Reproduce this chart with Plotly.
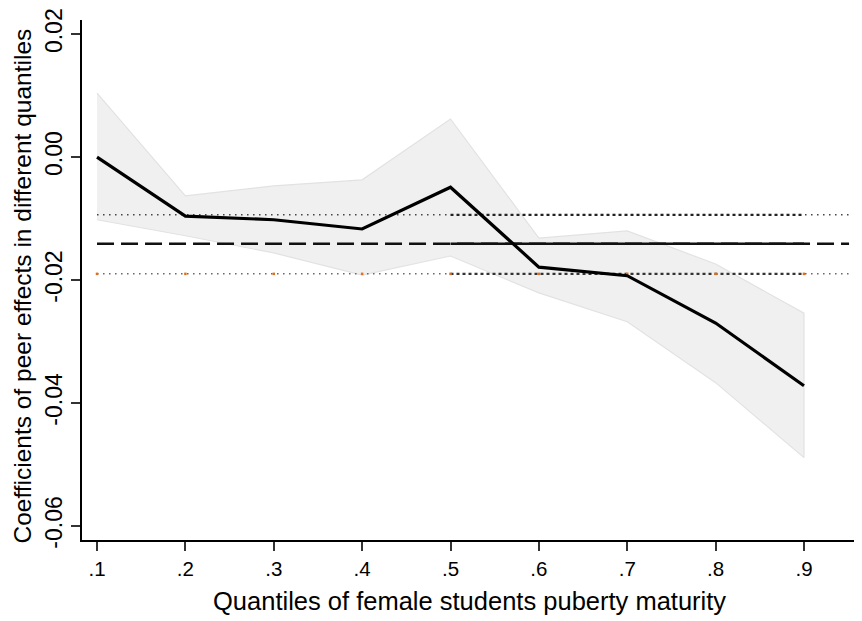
import plotly.graph_objects as go

quantiles = [0.1, 0.2, 0.3, 0.4, 0.5, 0.6, 0.7, 0.8, 0.9]
coef = [0.0000, -0.0096, -0.0102, -0.0117, -0.0049, -0.0179, -0.0193, -0.0270, -0.0372]
ci_upper = [0.0104, -0.0063, -0.0047, -0.0037, 0.0062, -0.0132, -0.0120, -0.0174, -0.0254]
ci_lower = [-0.0102, -0.0128, -0.0156, -0.0192, -0.0161, -0.0221, -0.0268, -0.0367, -0.0489]

ols_coef = -0.0141
ols_upper = -0.0094
ols_lower = -0.0190
ref_x_full = [0.1, 0.951]
ref_x_part = [0.5, 0.9]

yticks = [0.02, 0.0, -0.02, -0.04, -0.06]
ytick_labels = ["0.02", "0.00", "-0.02", "-0.04", "-0.06"]
xticks = quantiles
xtick_labels = [".1", ".2", ".3", ".4", ".5", ".6", ".7", ".8", ".9"]

x_title = "Quantiles of female students puberty maturity"
y_title = "Coefficients of peer effects in different quantiles"

fig = go.Figure()

# CI band
fig.add_trace(go.Scatter(x=quantiles + quantiles[::-1], y=ci_upper + ci_lower[::-1],
                         fill="toself", fillcolor="#f0f0f0",
                         line=dict(color="#e2e2e2", width=1.2),
                         mode="lines", hoverinfo="skip", showlegend=False))

# Reference lines (full span)
fig.add_trace(go.Scatter(x=ref_x_full, y=[ols_upper, ols_upper], mode="lines",
                         line=dict(color="#444444", width=1.5, dash="1.5px,4.5px"), showlegend=False))
fig.add_trace(go.Scatter(x=ref_x_full, y=[ols_coef, ols_coef], mode="lines",
                         line=dict(color="#111111", width=2.4, dash="17px,7px"), showlegend=False))
fig.add_trace(go.Scatter(x=ref_x_full, y=[ols_lower, ols_lower], mode="lines",
                         line=dict(color="#666666", width=1.5, dash="1.5px,4.5px"), showlegend=False))

# Overlaid darker segments
fig.add_trace(go.Scatter(x=ref_x_part, y=[ols_upper, ols_upper], mode="lines",
                         line=dict(color="#222222", width=2.2, dash="3px,3px"), showlegend=False))
fig.add_trace(go.Scatter(x=ref_x_part, y=[ols_coef, ols_coef], mode="lines",
                         line=dict(color="#111111", width=2.6), showlegend=False))
fig.add_trace(go.Scatter(x=ref_x_part, y=[ols_lower, ols_lower], mode="lines",
                         line=dict(color="#333333", width=2.2, dash="3px,3px"), showlegend=False))

# small colored markers at quantiles
fig.add_trace(go.Scatter(x=quantiles, y=[ols_lower] * len(quantiles), mode="markers",
                         marker=dict(color="#e07020", size=2.5, symbol="square"), showlegend=False))

# Main coefficient line
fig.add_trace(go.Scatter(x=quantiles, y=coef, mode="lines",
                         line=dict(color="black", width=3.2), showlegend=False))

fig.update_layout(
    width=854, height=613,
    paper_bgcolor="white", plot_bgcolor="white",
    margin=dict(l=74, r=5, t=12, b=81),
    font=dict(family="Liberation Sans, Arial, sans-serif", color="black"),
    xaxis=dict(range=[0.083, 0.96], tickvals=xticks, ticktext=xtick_labels,
               showgrid=False, zeroline=False, showline=True, linecolor="black", linewidth=2,
               ticks="outside", ticklen=9, tickwidth=1.5, tickcolor="#333333",
               tickfont=dict(size=20.5), automargin=False),
    yaxis=dict(range=[-0.0623, 0.0223], tickvals=yticks, ticktext=ytick_labels,
               showgrid=False, zeroline=False, showline=True, linecolor="black", linewidth=2,
               ticks="outside", ticklen=9, tickwidth=1.5, tickcolor="#333333",
               tickangle=-90, tickfont=dict(size=23), automargin=False),
    annotations=[
        dict(text=x_title, xref="paper", yref="paper", x=0.5, y=-0.117, xanchor="center", yanchor="middle",
             showarrow=False, font=dict(size=25.5, color="black")),
        dict(text=y_title, xref="paper", yref="paper", x=-0.077, y=0.488, xanchor="center", yanchor="middle",
             textangle=-90, showarrow=False, font=dict(size=24.5, color="black")),
    ],
)

fig.write_html("out.html")
